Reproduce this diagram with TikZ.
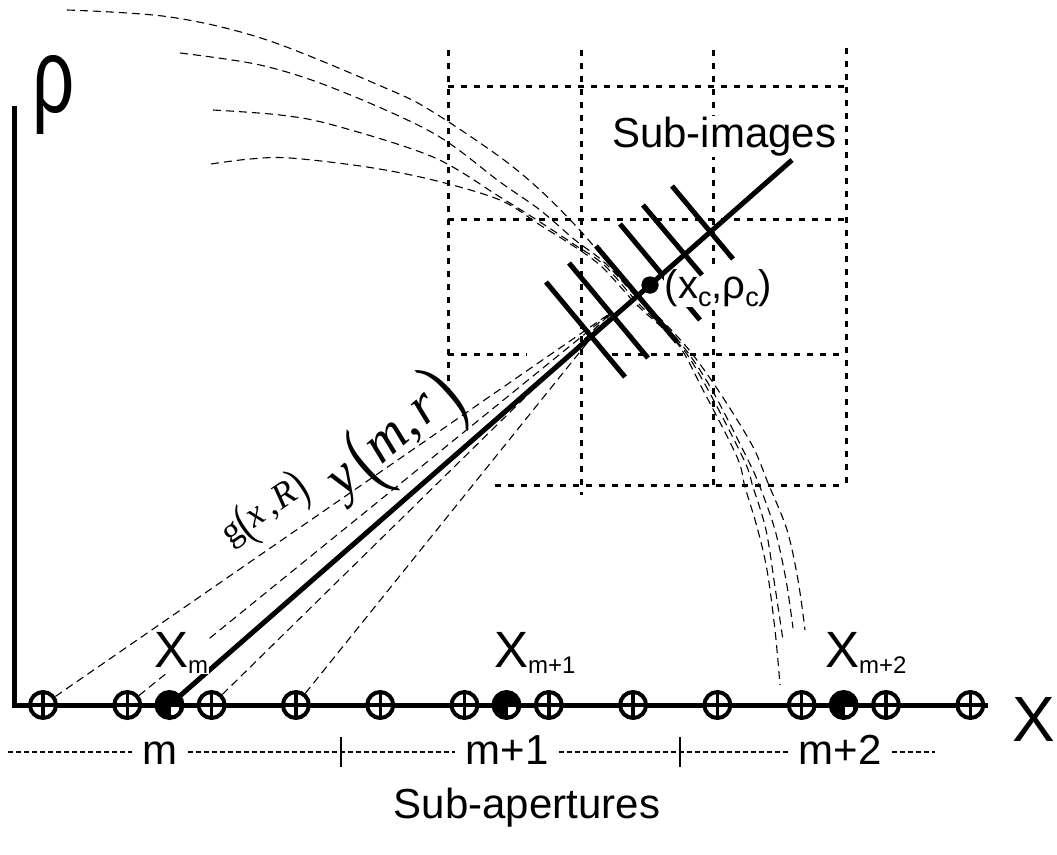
\documentclass[tikz,border=0pt]{standalone}
\usepackage{graphicx}
\usepackage{fontspec}
\setmainfont{Liberation Sans}
\newfontfamily\timesf{Liberation Serif}
\newcommand\fsz[1]{\fontsize{#1}{#1}\selectfont}
\newcommand\lowsub[3]{\raisebox{-#3pt}{\fsz{#2}#1}}
\newcommand\bigp[3]{\raisebox{-#3pt}{\scalebox{1}[#2]{\upshape #1}}}
\begin{document}
\begin{tikzpicture}[x=1pt,y=-1pt,
  axisline/.style={line width=5pt},
  gridline/.style={line width=3pt, dash pattern=on 6pt off 7pt},
  thindash/.style={line width=1.1pt, dash pattern=on 8pt off 5pt},
  rowdash/.style={line width=1.1pt, dash pattern=on 5pt off 3pt},
  mainline/.style={line width=5pt},
  hatchline/.style={line width=5pt},
  sensor/.style={circle, draw, line width=4pt, fill=white, minimum size=26pt, inner sep=0pt,
    path picture={\draw[line width=3.4pt] (path picture bounding box.north) -- (path picture bounding box.south)
      (path picture bounding box.west) -- (path picture bounding box.east);}},
  fsensor/.style={circle, draw, line width=4pt, fill=black, minimum size=26pt, inner sep=0pt,
    path picture={\fill[white] ([xshift=1.6pt,yshift=-1.6pt]path picture bounding box.center) rectangle ++(8,8);}},
  dotnode/.style={circle, fill=black, minimum size=17pt, inner sep=0pt},
  masklbl/.style={fill=white, inner sep=1pt},
  rowlbl/.style={inner xsep=10pt, inner ysep=0pt}
]
\useasboundingbox (0,0) rectangle (1057,854);

% grid of sub-images
\draw[gridline] (448,86) -- (846,86);
\draw[gridline] (448,219) -- (846,219);
\draw[gridline] (448,354) -- (527,354) (612,354) -- (846,354);
\draw[gridline] (495,485) -- (846,485);
\draw[gridline] (448,50) -- (448,400);
\draw[gridline] (581,50) -- (581,495);
\draw[gridline] (713,50) -- (713,490);
\draw[gridline] (846,48) -- (846,490);

% range curves
\draw[thindash] plot[smooth, tension=0.55] coordinates {(67,10) (170,17) (267,40) (390,90) (433,112) (500,157) (540,190) (575,225) (606,260) (642,300) (685,345) (718,390) (752,445) (768,483) (787,530) (798,580) (805,630)};
\draw[thindash] plot[smooth, tension=0.55] coordinates {(180,53) (260,65) (333,88) (433,133) (500,182) (540,210) (575,240) (605,263) (641,302) (682,345) (712,390) (748,460) (760,487) (775,530) (786,580) (793,628)};
\draw[thindash] plot[smooth, tension=0.55] coordinates {(213,110) (280,115) (333,125) (433,157) (500,197) (540,222) (575,245) (604,265) (639,304) (680,345) (707,388) (744,460) (753,487) (766,530) (775,587) (783,640)};
\draw[thindash] plot[smooth, tension=0.55] coordinates {(211,164) (250,159) (290,158) (367,167) (433,180) (500,200) (540,225) (575,247) (602,267) (637,305) (677,343) (703,390) (737,457) (745,487) (757,527) (767,570) (775,630) (780,685)};

% axes
\coordinate (O) at (14,705);
\draw[axisline] (14,106) -- (O) -- (988,705);

% antenna positions
\foreach \i in {0,...,11} \node[sensor] (s\i) at ({43+84.3*\i},705) {};
\node[fsensor] (f0) at (169.5,705) {};
\node[fsensor] (f1) at (506.5,705) {};
\node[fsensor] (f2) at (843.7,705) {};

% g(x,R) lines
\coordinate (G) at (612,312);
\foreach \i in {0,...,3} \draw[thindash] (s\i) -- (G);

% main line y(m,r)
\node[dotnode] (c) at (650,285) {};
\coordinate (E) at (792,160);
\draw[mainline] (f0.center) -- (c.center);

% hatch 4 (partly masked by label)
\draw[hatchline] (620,224) -- (700,320);

% labels with white background
\node[masklbl, anchor=base west] (lxm) at (153,667) {\fsz{51}X\lowsub{m}{24}{6}};
\node[masklbl, anchor=base west] (lxm1) at (493,667) {\fsz{51}X\lowsub{m+1}{24}{6}};
\node[masklbl, anchor=base west] (lxm2) at (824,667) {\fsz{51}X\lowsub{m+2}{24}{6}};
\node[masklbl, anchor=base west, inner sep=0.5pt] (lc) at (664,298) {\fsz{40}(x\lowsub{c}{27}{8},ρ\lowsub{c}{27}{8})};
\node[masklbl, anchor=base west] (lsi) at (611,147) {\fsz{42}Sub-images};

% rest of main line and hatches
\draw[mainline] (c.center) -- (E);
\draw[hatchline] (546,282) -- (625,377);
\draw[hatchline] (569,263) -- (648,358);
\draw[hatchline] (596,246) -- (677,342);
\draw[hatchline] (643,205) -- (702,275);
\draw[hatchline] (672,186) -- (733,259);
\node[dotnode] at (c) {};

% function labels
\node[rotate=41.2, inner sep=0pt] (lymr) at (396,441)
  {\timesf\fsz{56}\itshape y\hspace{7pt}\bigp{(}{1.6}{13}m,\hspace{4pt}r\hspace{6pt}\bigp{)}{1.6}{13}};
\node[rotate=34.5, inner sep=0pt] (lg) at (266,513)
  {\timesf\fsz{36}g\bigp{(}{1.45}{6}\itshape x\hspace{5pt},\hspace{2pt}R\bigp{)}{1.45}{6}};

% axis labels
\node[anchor=base west, inner sep=0pt] (lrho) at (32,112) {\fsz{106}\scalebox{0.7}[1]{ρ}};
\node[anchor=base west, inner sep=0pt] (lx) at (1012,741) {\fsz{64}X};

% sub-aperture row
\node[rowlbl, anchor=base] (rm) at (160,764) {\fsz{42}m};
\node[rowlbl, anchor=base] (rm1) at (507,764) {\fsz{42}m+1};
\node[rowlbl, anchor=base] (rm2) at (840,764) {\fsz{42}m+2};
\coordinate (r0) at (8,752);
\coordinate (r3) at (935,752);
\coordinate (t1) at (341,752);
\coordinate (t2) at (680,752);
\draw[rowdash] (r0) -- (rm.west |- r0);
\draw[rowdash] (rm.east |- r0) -- (rm1.west |- r0);
\draw[rowdash] (rm1.east |- r0) -- (rm2.west |- r0);
\draw[rowdash] (rm2.east |- r0) -- (r3);
\draw[line width=1.5pt] ([yshift=15pt]t1) -- ([yshift=-15pt]t1);
\draw[line width=1.5pt] ([yshift=15pt]t2) -- ([yshift=-15pt]t2);
\node[anchor=base] (lsa) at (527,818) {\fsz{42}Sub-apertures};
\end{tikzpicture}
\end{document}
